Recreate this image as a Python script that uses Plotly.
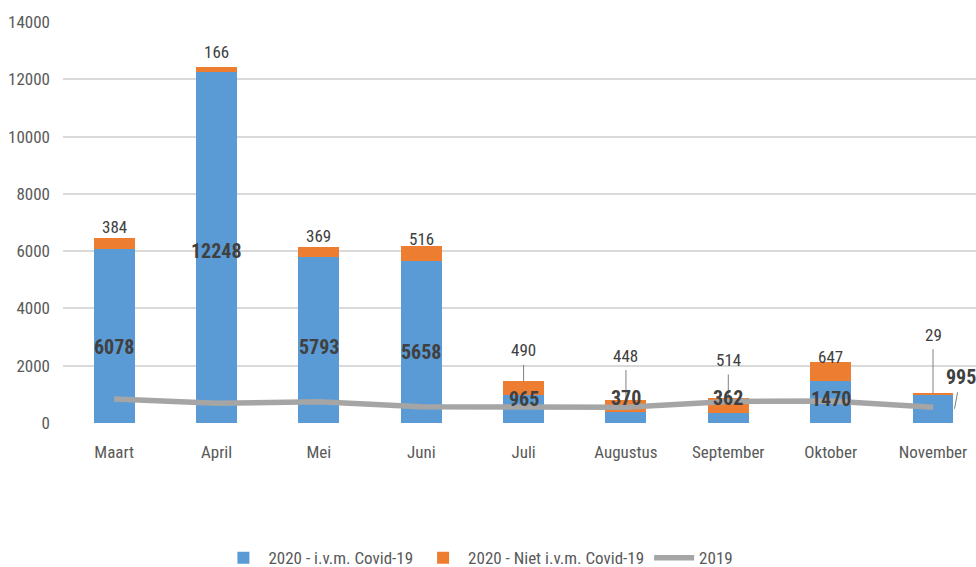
import plotly.graph_objects as go

months = ["Maart", "April", "Mei", "Juni", "Juli", "Augustus", "September", "Oktober", "November"]
covid = [6078, 12248, 5793, 5658, 965, 370, 362, 1470, 995]
niet_covid = [384, 166, 369, 516, 490, 448, 514, 647, 29]
y2019 = [840, 690, 740, 570, 560, 550, 750, 770, 550]
y_ticks = [0, 2000, 4000, 6000, 8000, 10000, 12000, 14000]

# label placement (pixels)
orange_shift = [11, 15, 11, 7, 31, 44, 38, 5, 59]
orange_leader = [False, False, False, False, True, True, True, False, True]
blue_shift = [-11, -3, -7, -10, 10, 20, 20, 3, None]

FONT = "Roboto Condensed, Liberation Sans Narrow, Arial Narrow, sans-serif"
BLUE = "#5B9BD5"
ORANGE = "#ED7D31"
GRAY = "#A5A5A5"
TXT = "#595959"
DARK = "#404040"

x = list(range(len(months)))

fig = go.Figure()
fig.add_trace(go.Bar(x=x, y=covid, name="2020 - i.v.m. Covid-19", marker=dict(color=BLUE, line=dict(width=0))))
fig.add_trace(go.Bar(x=x, y=niet_covid, name="2020 - Niet i.v.m. Covid-19", marker=dict(color=ORANGE, line=dict(width=0))))
fig.add_trace(go.Scatter(x=x, y=y2019, name="2019", mode="lines",
                         line=dict(color=GRAY, width=5.5)))

ann = []
for i in x:
    top = covid[i] + niet_covid[i]
    if orange_leader[i]:
        ann.append(dict(x=i, y=top, text=str(niet_covid[i]), showarrow=True, arrowhead=0,
                        arrowwidth=1, arrowcolor="#808080", ax=0, ay=-orange_shift[i], borderpad=4,
                        font=dict(family=FONT, size=17, color=DARK)))
    else:
        ann.append(dict(x=i, y=top, text=str(niet_covid[i]), showarrow=False,
                        yanchor="middle", yshift=orange_shift[i],
                        font=dict(family=FONT, size=17, color=DARK)))
    if blue_shift[i] is not None:
        ann.append(dict(x=i, y=covid[i] / 2, text="<b>%d</b>" % covid[i], showarrow=False,
                        yanchor="middle", yshift=blue_shift[i],
                        font=dict(family=FONT, size=20, color=DARK)))
    else:
        ann.append(dict(x=i + 0.21, y=covid[i] / 2, text="<b>%d</b>" % covid[i], showarrow=True,
                        arrowhead=0, arrowwidth=1, arrowcolor="#808080", ax=6, ay=-32, borderpad=3,
                        font=dict(family=FONT, size=20, color=DARK)))

fig.update_layout(
    width=976, height=567,
    margin=dict(l=63, r=0, t=22, b=144, autoexpand=False),
    paper_bgcolor="white", plot_bgcolor="white",
    barmode="stack", bargap=0.6,
    font=dict(family=FONT, size=17, color=TXT),
    annotations=ann,
    showlegend=True,
    legend=dict(orientation="h", x=0.455, y=-0.337, itemwidth=40,
                xanchor="center", yanchor="middle", font=dict(family=FONT, size=17, color=TXT),
                traceorder="normal"),
    xaxis=dict(tickmode="array", tickvals=x, ticktext=months, range=[-0.5, 8.42],
               showgrid=False, zeroline=False, showline=False, ticks="", automargin=False,
               ticklabelstandoff=17, tickfont=dict(family=FONT, size=17, color=TXT)),
    yaxis=dict(range=[0, 14000], tickmode="array", tickvals=y_ticks,
               ticktext=[str(v) for v in y_ticks], automargin=False,
               showgrid=True, gridcolor="#D9D9D9", gridwidth=1.5, zeroline=False,
               showline=False, ticks="", ticklabelstandoff=12,
               tickfont=dict(family=FONT, size=17, color=TXT)),
)

fig.write_html("out.html", config={"displayModeBar": False},
               post_script="document.body.style.margin='0';document.body.style.overflow='hidden';")
